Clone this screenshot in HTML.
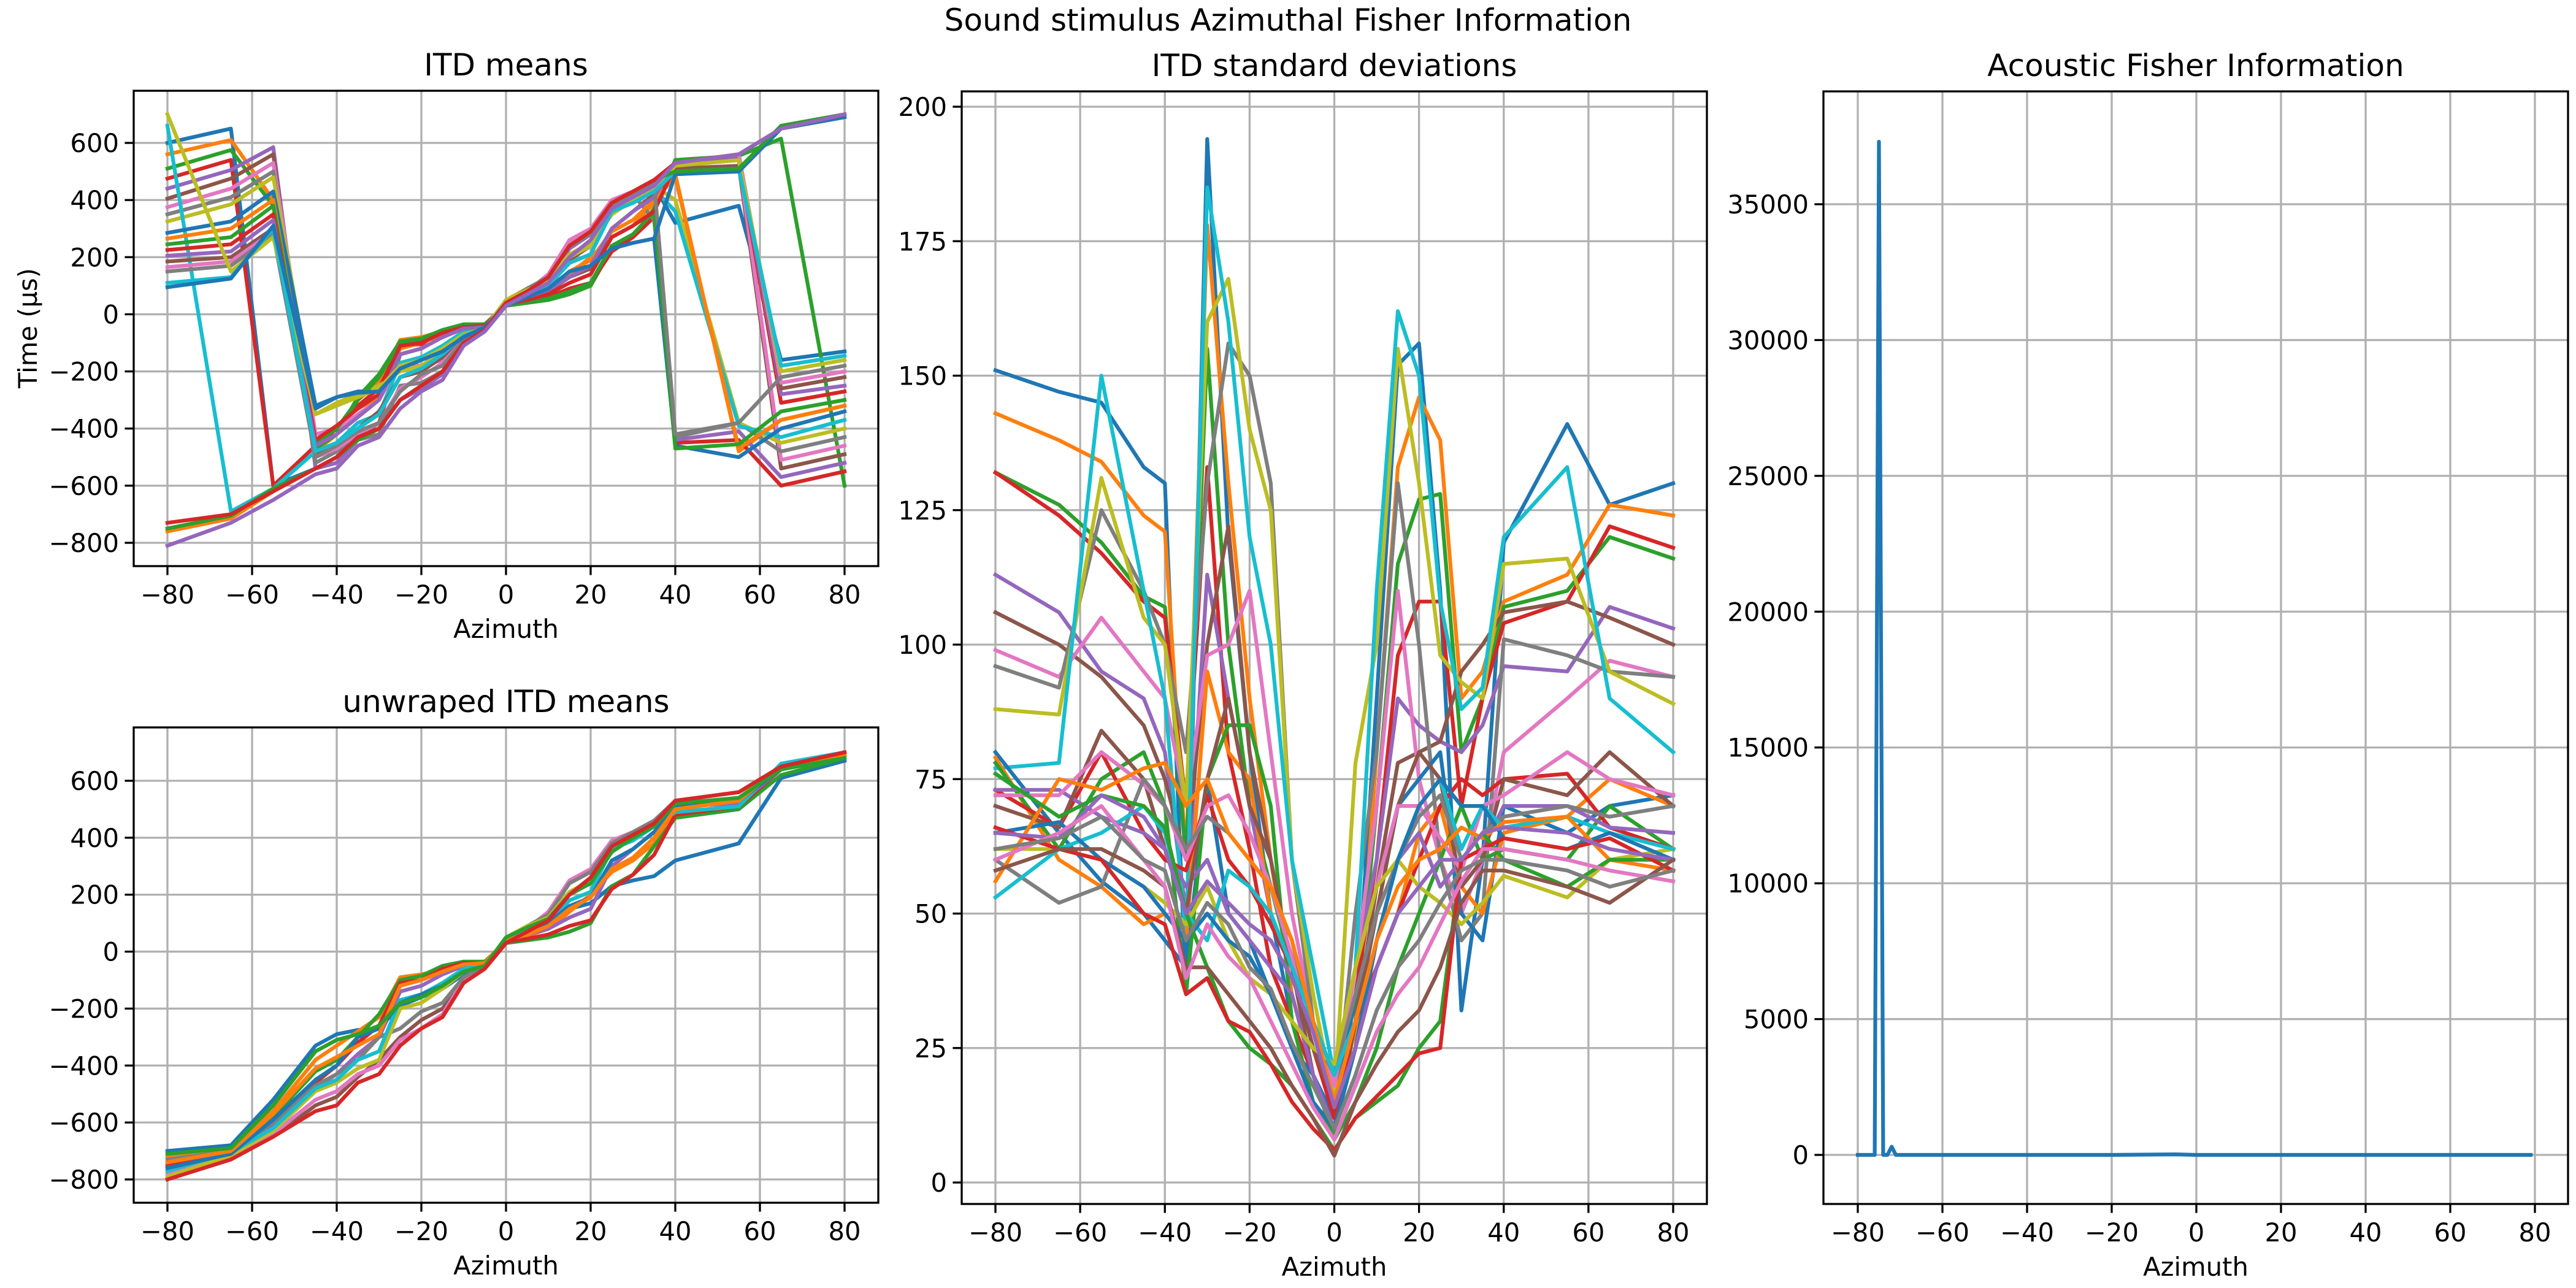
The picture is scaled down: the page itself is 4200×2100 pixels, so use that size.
<!DOCTYPE html>
<html><head><meta charset="utf-8"><style>
html,body{margin:0;padding:0;background:#fff;}
svg{display:block;font-family:"DejaVu Sans","Liberation Sans",sans-serif;}
</style></head><body>
<svg id="fig" width="4200" height="2100" viewBox="0 0 4200 2100" xmlns="http://www.w3.org/2000/svg">
<rect width="4200" height="2100" fill="#fff"/>
<text x="2100" y="50" font-size="50" text-anchor="middle">Sound stimulus Azimuthal Fisher Information</text>
</svg>
<script>
const az = [-80,-65,-55,-45,-40,-35,-30,-25,-20,-15,-10,-5,0,5,10,15,20,25,30,35,40,55,65,80];
const xTicks = [-80,-60,-40,-20,0,20,40,60,80];
const timeTicks = [-800,-600,-400,-200,0,200,400,600];
const stdTicks = [0,25,50,75,100,125,150,175,200];
const fisherTicks = [0,5000,10000,15000,20000,25000,30000,35000];
const fisherAz = [-80,-76,-75,-74,-73,-72,-71,-60,-40,-20,-5,0,20,40,60,79];
const fisherVal = [0,0,37300,0,0,300,0,0,0,0,20,0,0,0,0,0];
const wrappedMeans = [
[600,650,-600,-540,-500,-430,-400,-300,-250,-200,-100,-55,35,70,110,200,250,360,400,450,320,380,-160,-130],
[560,610,400,-480,-420,-300,-240,-90,-80,-60,-40,-35,35,55,80,140,200,270,310,390,490,-480,-370,-320],
[510,575,380,-470,-420,-290,-210,-95,-85,-55,-35,-35,30,40,50,70,100,230,270,370,540,555,615,-600],
[475,540,-600,-460,-400,-320,-260,-110,-105,-60,-40,-40,35,45,60,90,110,220,270,340,-450,-440,-600,-550],
[440,505,585,-540,-520,-440,-400,-300,-260,-210,-100,-55,40,75,120,230,280,380,420,460,-440,-410,-570,-520],
[405,475,560,-500,-470,-430,-380,-140,-120,-80,-50,-45,40,60,80,130,160,300,360,420,510,520,-540,-490],
[375,440,530,-420,-400,-350,-300,-170,-180,-160,-90,-50,40,80,140,260,300,400,430,470,520,540,-510,-460],
[350,410,500,-520,-480,-440,-420,-250,-240,-200,-90,-50,45,90,130,240,280,380,420,330,-430,-380,-480,-430],
[325,385,480,-350,-310,-280,-250,-200,-180,-130,-70,-50,50,90,120,210,250,350,400,450,400,-380,-450,-400],
[660,-690,-610,-480,-450,-380,-350,-170,-150,-110,-60,-45,40,70,100,180,210,360,390,440,360,-390,-430,-370],
[285,325,430,-320,-290,-270,-270,-190,-160,-130,-80,-45,30,60,90,150,170,230,250,265,-460,-500,-400,-340],
[265,300,400,-460,-390,-330,-290,-120,-100,-70,-45,-40,40,60,90,150,190,290,330,400,480,-470,-370,-320],
[245,270,380,-450,-400,-300,-220,-100,-90,-55,-38,-35,30,45,55,80,110,240,280,360,-470,-455,-340,-300],
[225,245,350,-440,-390,-330,-280,-110,-100,-65,-45,-40,35,50,70,110,140,270,310,360,520,540,-310,-270],
[205,220,330,-460,-420,-360,-300,-140,-120,-80,-50,-45,40,60,85,130,170,300,360,410,530,550,-280,-250],
[185,200,300,-490,-450,-400,-340,-220,-200,-150,-80,-50,35,70,110,190,240,360,400,450,530,560,-260,-220],
[165,185,290,-500,-470,-420,-380,-260,-220,-170,-90,-55,40,80,130,250,290,390,430,470,530,560,-240,-200],
[150,170,280,-500,-460,-410,-380,-270,-210,-180,-90,-50,45,90,130,240,280,380,420,460,-420,-380,-220,-180],
[700,150,270,-350,-320,-290,-260,-180,-160,-120,-70,-50,50,85,115,200,240,350,400,440,520,540,-200,-160],
[110,130,300,-480,-450,-400,-350,-220,-190,-140,-75,-50,40,70,100,180,210,360,390,430,500,510,-180,-145],
[95,125,310,-330,-290,-275,-270,-190,-160,-130,-80,-45,30,60,90,150,170,230,250,265,490,500,650,690],
[-760,-715,-620,-540,-500,-440,-400,-300,-250,-200,-100,-55,40,80,130,240,290,390,430,470,530,560,650,700],
[-750,-705,-610,-540,-500,-440,-400,-300,-250,-200,-100,-55,40,80,130,240,290,390,430,470,500,510,660,700],
[-730,-700,-620,-540,-500,-430,-400,-300,-250,-200,-100,-55,40,80,130,240,290,390,430,470,530,560,650,700],
[-810,-730,-650,-560,-540,-460,-430,-330,-270,-230,-110,-60,30,70,110,200,260,370,410,450,530,560,650,700]
];
const unwrappedMeans = [
[-700,-680,-520,-330,-290,-275,-270,-190,-160,-130,-80,-45,30,60,90,150,170,230,250,265,320,380,610,670],
[-720,-690,-560,-380,-330,-280,-230,-90,-80,-65,-40,-35,35,55,80,140,200,280,320,380,490,510,640,690],
[-740,-700,-580,-420,-380,-300,-220,-100,-85,-50,-35,-35,30,40,50,70,100,230,270,370,470,500,620,680],
[-750,-705,-600,-460,-400,-320,-260,-110,-100,-60,-40,-40,35,45,60,90,110,220,270,340,480,510,640,690],
[-760,-710,-610,-480,-430,-360,-300,-140,-120,-80,-50,-45,40,60,80,120,150,300,360,420,510,520,640,690],
[-800,-725,-650,-540,-510,-440,-380,-300,-240,-200,-110,-60,30,70,110,200,260,370,410,450,530,560,650,700],
[-780,-720,-640,-520,-490,-430,-400,-310,-270,-220,-100,-55,40,80,140,250,290,390,420,460,520,540,650,700],
[-730,-700,-600,-470,-430,-380,-300,-270,-210,-180,-90,-50,45,90,130,240,280,380,420,460,530,560,650,700],
[-790,-715,-630,-490,-460,-410,-380,-200,-180,-130,-70,-50,50,90,120,210,250,350,400,450,510,540,650,700],
[-770,-705,-620,-480,-450,-380,-350,-170,-150,-110,-60,-45,40,70,100,180,210,360,390,440,490,510,660,700],
[-760,-710,-590,-450,-400,-300,-270,-180,-150,-120,-70,-50,35,65,100,160,190,320,360,420,510,530,640,690],
[-740,-700,-570,-410,-370,-330,-290,-120,-100,-70,-45,-40,40,60,90,150,190,290,330,400,500,530,650,690],
[-710,-690,-540,-350,-310,-290,-260,-180,-160,-120,-70,-50,50,85,115,200,240,350,400,440,520,540,640,680],
[-800,-730,-650,-560,-540,-460,-430,-330,-270,-230,-110,-60,30,70,110,200,260,370,410,450,530,560,650,700]
];
const stdDevs = [
[151,147,145,133,130,35,194,120,80,50,30,20,8,30,90,152,156,110,32,60,119,141,126,130],
[143,138,134,124,121,60,178,130,90,60,35,20,10,25,80,133,146,138,90,95,108,113,126,124],
[132,126,119,109,107,60,155,100,70,55,40,20,8,30,70,115,127,128,80,90,107,110,120,116],
[132,124,117,108,105,70,133,80,62,40,30,20,12,35,60,98,108,108,70,90,104,108,122,118],
[113,106,95,90,80,50,113,90,70,50,40,25,15,40,60,90,85,82,80,85,96,95,107,103],
[106,100,94,85,75,60,100,122,80,60,40,20,10,30,55,78,80,82,95,100,106,108,105,100],
[99,94,105,95,90,70,98,100,110,80,50,30,15,40,70,110,75,60,50,60,80,90,97,94],
[96,92,125,110,100,80,130,156,150,130,60,30,12,50,80,130,100,60,45,50,101,98,95,94],
[88,87,131,105,100,70,160,168,140,125,60,35,15,78,100,155,130,98,93,90,115,116,95,89],
[77,78,150,110,90,45,185,160,120,100,60,40,20,40,110,162,150,108,88,92,120,133,90,80],
[80,65,56,50,45,40,75,50,45,35,25,20,12,35,50,70,75,80,50,45,70,65,70,72],
[79,60,55,48,50,45,95,80,75,50,40,25,14,25,40,50,65,70,55,50,65,68,75,70],
[78,62,75,80,70,35,75,85,85,70,30,15,8,15,25,40,50,60,70,60,62,60,70,62],
[73,66,80,65,60,58,72,60,55,48,40,25,12,30,40,50,60,70,75,72,75,76,66,62],
[73,73,68,65,62,55,60,50,45,40,35,20,10,25,45,60,65,55,60,62,70,70,66,65],
[70,66,84,75,62,50,75,90,70,60,40,25,15,30,50,70,80,75,55,60,75,72,80,70],
[72,72,80,74,70,60,70,72,65,55,42,30,18,40,55,70,70,64,58,70,72,80,75,72],
[60,52,55,75,70,62,68,65,60,55,45,28,20,35,50,60,68,72,60,65,68,70,68,70],
[62,62,60,55,52,48,55,45,38,35,30,25,22,40,55,60,55,52,48,52,57,53,60,62],
[53,62,65,70,65,50,45,58,55,50,40,30,20,30,45,60,70,75,62,70,66,68,65,62],
[65,67,60,55,50,45,50,45,42,35,25,15,10,25,45,60,70,75,70,70,64,62,65,60],
[56,75,73,77,78,70,75,65,60,55,45,30,15,30,45,55,60,62,66,64,67,68,60,58],
[76,68,72,70,66,50,40,30,25,22,18,12,6,12,15,18,25,30,60,65,60,55,60,60],
[66,62,60,50,48,35,38,30,28,22,15,10,6,12,16,20,24,25,60,62,64,62,64,58],
[65,64,72,68,62,50,56,52,48,45,38,28,14,25,40,50,55,60,60,65,66,65,62,60],
[58,62,62,58,55,40,40,35,30,25,18,12,5,15,22,28,32,40,52,58,58,55,52,60],
[60,65,70,60,55,38,48,42,38,30,22,14,8,18,28,35,40,48,56,62,62,60,58,56],
[62,64,68,60,58,45,52,48,40,36,26,18,10,20,32,40,45,52,58,60,60,58,55,58]
];
const colors = ['#1f77b4','#ff7f0e','#2ca02c','#d62728','#9467bd','#8c564b','#e377c2','#7f7f7f','#bcbd22','#17becf'];

const NS='http://www.w3.org/2000/svg';
const svg=document.getElementById('fig');
function mk(tag,attrs,parent){const e=document.createElementNS(NS,tag);for(const k in attrs)e.setAttribute(k,attrs[k]);(parent||svg).appendChild(e);return e;}
function fmt(v){return v<0?'\u2212'+Math.abs(v):String(v);}

function panel(p){
  const g=mk('g',{});
  
  
  const sx=v=>p.x0px+(v-p.x0v)*(p.x1px-p.x0px)/(p.x1v-p.x0v);
  const sy=v=>p.y0px+(v-p.y0v)*(p.y1px-p.y0px)/(p.y1v-p.y0v);
  const cid='clip-'+p.name;
  const cp=mk('clipPath',{id:cid},g);
  mk('rect',{x:p.L,y:p.T,width:p.R-p.L,height:p.B-p.T},cp);
  p.xt.forEach(v=>{const l=mk('line',{x1:sx(v),x2:sx(v),y1:p.T,y2:p.B,stroke:'#b0b0b0','stroke-width':3.3},g);
    });
  p.yt.forEach(v=>{const l=mk('line',{x1:p.L,x2:p.R,y1:sy(v),y2:sy(v),stroke:'#b0b0b0','stroke-width':3.3},g);
    });
  const sg=mk('g',{'clip-path':'url(#'+cid+')'},g);
  
  p.series.forEach((ys,i)=>{
    const xs=p.xs;
    const d=ys.map((y,j)=>(j?'L':'M')+sx(xs[j]).toFixed(1)+' '+sy(y).toFixed(1)).join(' ');
    const pa=mk('path',{d:d,fill:'none',stroke:colors[i%10],'stroke-width':6.2,'stroke-linejoin':'round','stroke-linecap':'square'},sg);
    
    
  });
  const sp=mk('rect',{x:p.L,y:p.T,width:p.R-p.L,height:p.B-p.T,fill:'none',stroke:'#000','stroke-width':3.3},g);
  
  p.xt.forEach(v=>{mk('line',{x1:sx(v),x2:sx(v),y1:p.B,y2:p.B+14.6,stroke:'#000','stroke-width':3.3},g);
    const t=mk('text',{x:sx(v),y:p.B+61,'font-size':41.7,'text-anchor':'middle'},g);t.textContent=fmt(v);
    });
  p.yt.forEach(v=>{mk('line',{x1:p.L-14.6,x2:p.L,y1:sy(v),y2:sy(v),stroke:'#000','stroke-width':3.3},g);
    const t=mk('text',{x:p.L-24,y:sy(v)+15,'font-size':41.7,'text-anchor':'end'},g);t.textContent=fmt(v);
    });
  const ti=mk('text',{x:(p.L+p.R)/2,y:p.T-25,'font-size':50,'text-anchor':'middle'},g);ti.textContent=p.title;
  
  if(p.xlabel){const xl=mk('text',{x:(p.L+p.R)/2,y:p.B+117,'font-size':41.7,'text-anchor':'middle'},g);xl.textContent=p.xlabel;
    }
}

panel({name:'itd-means-panel',title:'ITD means',xlabel:'Azimuth',L:218,R:1432,T:148,B:923,
  x0v:-80,x1v:80,x0px:273,x1px:1377,y0v:600,y1v:-800,y0px:233,y1px:885,
  xt:xTicks,yt:timeTicks,xs:az,series:wrappedMeans});
panel({name:'unwrapped-itd-means-panel',title:'unwraped ITD means',xlabel:'Azimuth',L:218,R:1432,T:1186,B:1961,
  x0v:-80,x1v:80,x0px:273,x1px:1377,y0v:600,y1v:-800,y0px:1273,y1px:1923,
  xt:xTicks,yt:timeTicks,xs:az,series:unwrappedMeans});
panel({name:'itd-std-panel',title:'ITD standard deviations',xlabel:'Azimuth',L:1568,R:2783,T:149,B:1963,
  x0v:-80,x1v:80,x0px:1623,x1px:2728,y0v:200,y1v:0,y0px:174,y1px:1928,
  xt:xTicks,yt:stdTicks,xs:az,series:stdDevs});
panel({name:'fisher-info-panel',title:'Acoustic Fisher Information',xlabel:'Azimuth',L:2973,R:4187,T:149,B:1963,
  x0v:-80,x1v:80,x0px:3029,x1px:4133,y0v:35000,y1v:0,y0px:333,y1px:1883,
  xt:xTicks,yt:fisherTicks,xs:fisherAz,series:[fisherVal]});

const yl=mk('text',{x:0,y:0,'font-size':41.7,'text-anchor':'middle',transform:'translate(60,535) rotate(-90)'});
yl.textContent='Time (\u03bcs)';


</script>
</body></html>
